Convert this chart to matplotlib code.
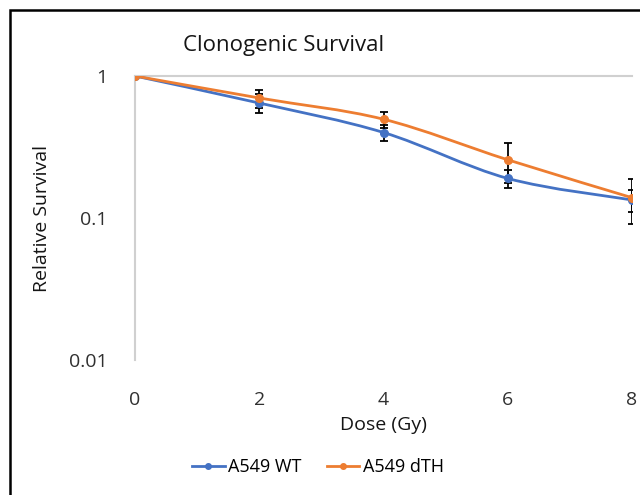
import numpy as np
import matplotlib
matplotlib.use("Agg")
import matplotlib.pyplot as plt
from matplotlib.path import Path
from matplotlib.patches import PathPatch, Rectangle
from matplotlib.lines import Line2D
from matplotlib.ticker import FixedLocator, FixedFormatter, NullLocator

plt.rcParams['font.family'] = ['Open Sans', 'DejaVu Sans']

dose = [0, 2, 4, 6, 8]
wt = [1.0, 0.645, 0.40, 0.19, 0.134]
wt_err = [0.0, 0.10, 0.05, 0.028, 0.024]
dth = [1.0, 0.70, 0.496, 0.257, 0.139]
dth_err = [0.0, 0.10, 0.065, 0.08, 0.048]
labels = ["A549 WT", "A549 dTH"]
colors = ["#4472C4", "#ED7D31"]


def smooth_path(x, y):
	# Excel-like smoothed line: bezier segments in (x, log10 y) space
	x = np.asarray(x, float)
	ly = np.log10(np.asarray(y, float))
	n = len(x)
	verts = [(x[0], ly[0])]
	codes = [Path.MOVETO]
	for i in range(n - 1):
		p0 = np.array([x[max(i - 1, 0)], ly[max(i - 1, 0)]])
		p1 = np.array([x[i], ly[i]])
		p2 = np.array([x[i + 1], ly[i + 1]])
		p3 = np.array([x[min(i + 2, n - 1)], ly[min(i + 2, n - 1)]])
		c1 = p1 + (p2 - p0) / 6
		c2 = p2 - (p3 - p1) / 6
		verts += [tuple(c1), tuple(c2), tuple(p2)]
		codes += [Path.CURVE4] * 3
	verts = [(vx, 10 ** vy) for vx, vy in verts]
	return Path(verts, codes)


fig = plt.figure(figsize=(6.4, 4.95), dpi=100)
ax = fig.add_axes([135 / 640, 1 - 360 / 495, 497 / 640, 284 / 495])

for y, err, c in [(wt, wt_err, colors[0]), (dth, dth_err, colors[1])]:
	ax.errorbar(dose, y, yerr=err, fmt="none", ecolor="black", elinewidth=1.3,
		capsize=3, capthick=1.3, zorder=2)
for y, c in [(wt, colors[0]), (dth, colors[1])]:
	ax.add_patch(PathPatch(smooth_path(dose, y), facecolor="none", edgecolor=c,
		lw=2.0, zorder=3, capstyle="round"))
	ax.plot(dose, y, "o", color=c, ms=5.5, zorder=4)

ax.set_yscale("log")
ax.set_ylim(0.01, 1)
ax.set_xlim(0, 8)
ax.yaxis.set_major_locator(FixedLocator([0.01, 0.1, 1]))
ax.yaxis.set_major_formatter(FixedFormatter(["0.01", "0.1", "1"]))
ax.yaxis.set_minor_locator(NullLocator())
ax.set_xticks(dose)
ax.tick_params(length=0, labelsize=14, colors="#303030")
ax.tick_params(axis="x", pad=22)
ax.tick_params(axis="y", pad=20)
for s in ["right", "bottom"]:
	ax.spines[s].set_visible(False)
for s in ["left", "top"]:
	ax.spines[s].set_color("#d0d0d0")
	ax.spines[s].set_linewidth(1.5)

fig.text(284 / 640, 1 - 45 / 495, "Clonogenic Survival", ha="center", va="center",
	fontsize=16, color="#151515")
fig.text(42 / 640, 1 - 218 / 495, "Relative Survival", ha="center", va="center",
	rotation=90, fontsize=14, color="#151515")
fig.text(383 / 640, 1 - 425 / 495, "Dose (Gy)", ha="center", va="center",
	fontsize=14, color="#151515")

handles = [Line2D([], [], color=c, lw=2, marker="o", ms=4) for c in colors]
fig.legend(handles, labels, loc="center", bbox_to_anchor=(318 / 640, 1 - 467 / 495),
	ncol=2, frameon=False, fontsize=13, handlelength=1.8, handletextpad=0.2,
	columnspacing=1.4)

fig.patches.append(Rectangle((10 / 640, -0.1), 1.2, 1 - 10 / 495 + 0.1,
	transform=fig.transFigure, fill=False, edgecolor="black", lw=1.8))

fig.savefig("out.png", dpi=100)
